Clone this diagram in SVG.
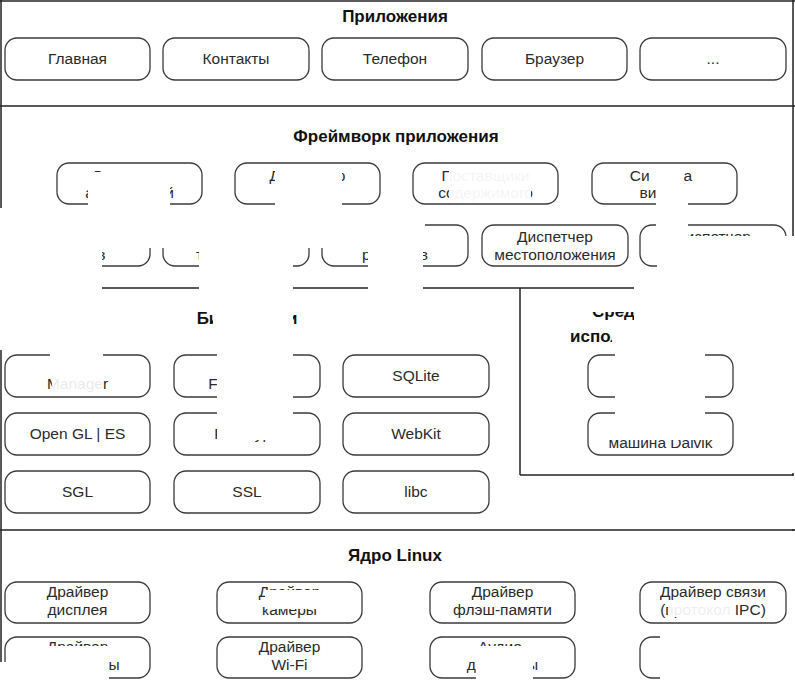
<svg xmlns="http://www.w3.org/2000/svg" width="795" height="681" viewBox="0 0 795 681">
<style>
.frame{stroke:#222;stroke-width:1.5;fill:none}
.box{fill:#fff;stroke:#3a3a3a;stroke-width:1.3}
.t{font-family:"Liberation Sans",Arial,sans-serif;font-size:15.5px;fill:#2a2a2a;text-anchor:middle}
.h{font-family:"Liberation Sans",Arial,sans-serif;font-size:17px;font-weight:bold;fill:#111;text-anchor:middle}
.w{fill:#fff;stroke:none}
</style>
<rect width="795" height="681" fill="#fff"/>
<g id="frames">
<line class="frame" x1="0" y1="1" x2="795" y2="1"/>
<line class="frame" x1="1" y1="0" x2="1" y2="681"/>
<line class="frame" x1="793" y1="0" x2="793" y2="681"/>
<line class="frame" x1="0" y1="106" x2="795" y2="106"/>
<line class="frame" x1="0" y1="288" x2="795" y2="288"/>
<line class="frame" x1="520" y1="288" x2="520" y2="475"/>
<line class="frame" x1="520" y1="475" x2="793" y2="475"/>
<line class="frame" x1="0" y1="530" x2="795" y2="530"/>
</g>
<g id="titles">
<text class="h" x="395" y="22">Приложения</text>
<text class="h" x="396" y="142">Фреймворк приложения</text>
<text class="h" x="247" y="324">Библиотеки</text>
<text class="h" x="592" y="317" style="text-anchor:start">Среда</text>
<text class="h" x="570" y="342" style="text-anchor:start">исполнения</text>
<text class="h" x="395" y="561">Ядро Linux</text>
</g>
<g id="apps">
<g id="app1"><rect class="box" x="5" y="38" width="145" height="42" rx="12"/><text class="t" x="77.5" y="64">Главная</text></g>
<g id="app2"><rect class="box" x="163" y="38" width="146" height="42" rx="12"/><text class="t" x="236" y="64">Контакты</text></g>
<g id="app3"><rect class="box" x="322" y="38" width="146" height="42" rx="12"/><text class="t" x="395" y="64">Телефон</text></g>
<g id="app4"><rect class="box" x="482" y="38" width="145" height="42" rx="12"/><text class="t" x="554.5" y="64">Браузер</text></g>
<g id="app5"><rect class="box" x="640" y="38" width="146" height="42" rx="12"/><text class="t" x="713" y="64">...</text></g>
</g>
<g id="framework">
<g id="fw1"><rect class="box" x="57" y="163" width="145" height="41" rx="12"/><text class="t" x="129.5" y="181">Диспетчер</text><text class="t" x="129.5" y="198">активностей</text></g>
<g id="fw2"><rect class="box" x="235" y="163" width="145" height="41" rx="12"/><text class="t" x="307.5" y="181">Диспетчер</text></g>
<g id="fw3"><rect class="box" x="413" y="163" width="145" height="41" rx="12"/><text class="t" x="485.5" y="181">Поставщики</text><text class="t" x="485.5" y="198">содержимого</text></g>
<g id="fw4"><rect class="box" x="592" y="163" width="145" height="41" rx="12"/><text class="t" x="661" y="181">Система</text><text class="t" x="661" y="198">видов</text></g>
<g id="fw5"><rect class="box" x="5" y="225" width="145" height="41" rx="12"/><text class="t" x="77.5" y="260">пакетов</text></g>
<g id="fw6"><rect class="box" x="163" y="225" width="146" height="41" rx="12"/><text class="t" x="236" y="260">телефонии</text></g>
<g id="fw7"><rect class="box" x="322" y="225" width="146" height="41" rx="12"/><text class="t" x="395" y="260">ресурсов</text></g>
<g id="fw8"><rect class="box" x="482" y="225" width="146" height="41" rx="12"/><text class="t" x="555" y="242">Диспетчер</text><text class="t" x="555" y="260">местоположения</text></g>
<g id="fw9"><rect class="box" x="640" y="225" width="146" height="41" rx="12"/><text class="t" x="713" y="242">Диспетчер</text></g>
</g>
<g id="libraries">
<g id="lib1"><rect class="box" x="5" y="355" width="145" height="42" rx="12"/><text class="t" x="77.5" y="389">Manager</text></g>
<g id="lib2"><rect class="box" x="174" y="355" width="146" height="42" rx="12"/><text class="t" x="247" y="389">Framework</text></g>
<g id="lib3"><rect class="box" x="343" y="355" width="146" height="42" rx="12"/><text class="t" x="416" y="381">SQLite</text></g>
<g id="lib4"><rect class="box" x="5" y="413" width="145" height="42" rx="12"/><text class="t" x="77.5" y="439">Open GL | ES</text></g>
<g id="lib5"><rect class="box" x="174" y="413" width="146" height="42" rx="12"/><text class="t" x="247" y="439">FreeType</text></g>
<g id="lib6"><rect class="box" x="343" y="413" width="146" height="42" rx="12"/><text class="t" x="416" y="439">WebKit</text></g>
<g id="lib7"><rect class="box" x="5" y="471" width="145" height="42" rx="12"/><text class="t" x="77.5" y="497">SGL</text></g>
<g id="lib8"><rect class="box" x="174" y="471" width="146" height="42" rx="12"/><text class="t" x="247" y="497">SSL</text></g>
<g id="lib9"><rect class="box" x="343" y="471" width="146" height="42" rx="12"/><text class="t" x="416" y="497">libc</text></g>
</g>
<g id="runtime">
<g id="rt1"><rect class="box" x="588" y="355" width="145" height="42" rx="12"/></g>
<g id="rt2"><rect class="box" x="588" y="413" width="145" height="42" rx="12"/><text class="t" x="660.5" y="448">машина Dalvik</text></g>
</g>
<g id="kernel">
<g id="k1"><rect class="box" x="5" y="582" width="145" height="41" rx="12"/><text class="t" x="77.5" y="597">Драйвер</text><text class="t" x="77.5" y="615">дисплея</text></g>
<g id="k2"><rect class="box" x="217" y="582" width="145" height="41" rx="12"/><text class="t" x="289.5" y="597">Драйвер</text><text class="t" x="289.5" y="615">камеры</text></g>
<g id="k3"><rect class="box" x="430" y="582" width="145" height="41" rx="12"/><text class="t" x="502.5" y="597">Драйвер</text><text class="t" x="502.5" y="615">флэш-памяти</text></g>
<g id="k4"><rect class="box" x="640" y="582" width="146" height="41" rx="12"/><text class="t" x="713" y="597">Драйвер связи</text><text class="t" x="713" y="615">(протокол IPC)</text></g>
<g id="k5"><rect class="box" x="5" y="637" width="145" height="41" rx="12"/><text class="t" x="77.5" y="652">Драйвер</text><text class="t" x="77.5" y="670">клавиатуры</text></g>
<g id="k6"><rect class="box" x="217" y="637" width="145" height="41" rx="12"/><text class="t" x="289.5" y="652">Драйвер</text><text class="t" x="289.5" y="670">Wi-Fi</text></g>
<g id="k7"><rect class="box" x="430" y="637" width="145" height="41" rx="12"/><text class="t" x="502.5" y="652">Аудио-</text><text class="t" x="502.5" y="670">драйверы</text></g>
<g id="k8"><rect class="box" x="640" y="637" width="146" height="41" rx="12"/></g>
</g>
<g id="occlusions">
<rect class="w" x="88" y="172" width="82" height="44"/>
<rect class="w" x="275" y="168" width="67" height="48"/>
<rect class="w" x="449" y="168" width="82" height="34" opacity="0.95"/>
<rect class="w" x="650" y="168" width="34" height="14"/>
<rect class="w" x="656" y="182" width="32" height="58"/>
<rect class="w" x="0" y="208" width="425" height="40"/>
<rect class="w" x="0" y="248" width="102" height="102"/>
<rect class="w" x="199" y="248" width="94" height="52"/>
<rect class="w" x="213" y="300" width="80" height="30"/>
<rect class="w" x="217" y="330" width="76" height="110"/>
<rect class="w" x="50" y="350" width="53" height="28"/>
<rect class="w" x="52" y="378" width="51" height="14" opacity="0.9"/>
<rect class="w" x="368" y="248" width="55" height="52"/>
<rect class="w" x="657" y="236" width="143" height="32"/>
<rect class="w" x="634" y="268" width="166" height="32"/>
<rect class="w" x="522" y="290" width="278" height="22"/>
<rect class="w" x="634" y="300" width="166" height="24"/>
<rect class="w" x="612" y="322" width="188" height="28"/>
<rect class="w" x="615" y="345" width="90" height="95"/>
<rect class="w" x="605" y="418" width="110" height="22"/>
<rect class="w" x="735" y="240" width="65" height="233"/>
<rect class="w" x="788" y="476" width="12" height="53"/>
<rect class="w" x="788" y="531" width="12" height="150"/>
<rect class="w" x="265" y="590" width="60" height="19"/>
<rect class="w" x="668" y="603" width="67" height="14" opacity="0.92"/>
<rect class="w" x="0" y="662" width="109" height="19"/>
<rect class="w" x="20" y="646" width="89" height="16"/>
<rect class="w" x="476" y="646" width="57" height="35"/>
<rect class="w" x="660" y="630" width="140" height="51"/>
</g>
</svg>
